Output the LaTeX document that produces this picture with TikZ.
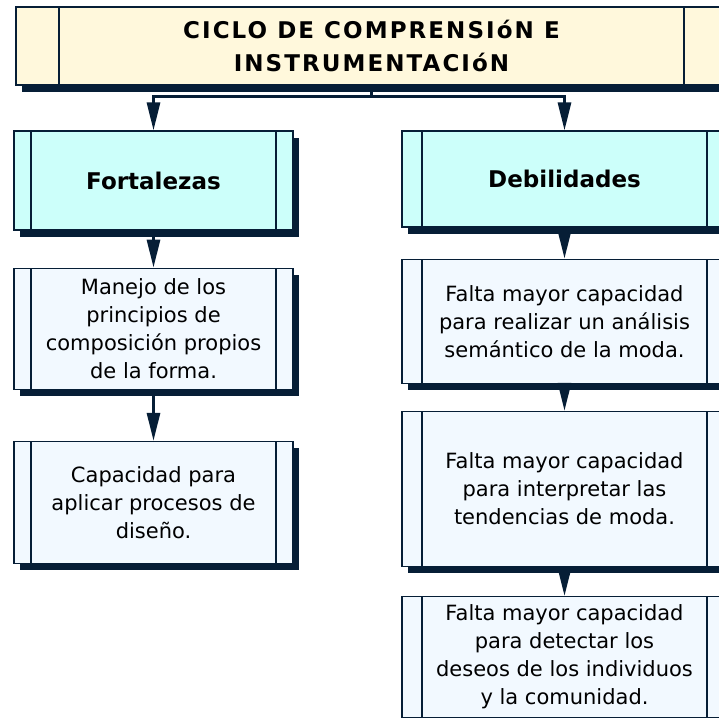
\documentclass[tikz,border=0pt]{standalone}
\usepackage{fontspec}
\setmainfont{DejaVu Sans}
\usepackage{xcolor}
\usetikzlibrary{arrows.meta, positioning, shadows}

\definecolor{oscuro}{HTML}{061E36}
\definecolor{crema}{HTML}{FFF8DC}
\definecolor{cian}{HTML}{CCFFFA}
\definecolor{celeste}{HTML}{F2F9FF}

\begin{document}
\begin{tikzpicture}[
  x=1pt, y=-1pt,
  node distance=30pt,
  barras/.style={path picture={
    \draw[oscuro, line width=1.2pt]
      ([xshift=#1]path picture bounding box.north west) -- ([xshift=#1]path picture bounding box.south west)
      ([xshift=-#1]path picture bounding box.north east) -- ([xshift=-#1]path picture bounding box.south east);}},
  caja/.style={draw=oscuro, line width=1.2pt, fill=celeste, align=center, inner sep=0pt,
               font=\fontsize{21}{28}\selectfont,
               drop shadow={shadow xshift=6pt, shadow yshift=-7pt, fill=oscuro, opacity=1}},
  izq/.style={caja, barras=17pt, minimum width=279pt},
  der/.style={caja, barras=20pt, minimum width=325pt},
  cabeza/.style={fill=cian, font=\fontsize{23}{28}\selectfont\bfseries},
  flecha/.style={draw=oscuro, line width=3pt, -{Triangle[length=28pt, width=13pt]}}
]
  \clip (0,0) rectangle (719,717);

  % titulo
  \node[caja, barras=43pt, fill=crema, minimum width=711pt, minimum height=78pt,
        font=\fontsize{23}{33}\selectfont\bfseries\addfontfeature{LetterSpace=9}]
        (titulo) at (371.5,46) {CICLO DE COMPRENSIóN E\\INSTRUMENTACIóN};

  % columna izquierda
  \node[izq, cabeza, minimum height=99pt] (fort) at (153.5,180.5) {Fortalezas};
  \node[izq, minimum height=121pt, below=37pt of fort] (manejo)
        {Manejo de los\\principios de\\composición propios\\de la forma.};
  \node[izq, minimum height=122pt, below=51pt of manejo] (capac)
        {Capacidad para\\aplicar procesos de\\diseño.};

  % columna derecha
  \node[der, cabeza, minimum height=96pt] (debil) at (564.5,179) {Debilidades};
  \node[der, minimum height=124pt, below=31pt of debil] (falta1)
        {Falta mayor capacidad\\para realizar un análisis\\semántico de la moda.};
  \node[der, minimum height=155pt, below=27pt of falta1] (falta2)
        {Falta mayor capacidad\\para interpretar las\\tendencias de moda.};
  \node[der, minimum height=121pt, below=29pt of falta2] (falta3)
        {Falta mayor capacidad\\para detectar los\\deseos de los individuos\\y la comunidad.};

  % conectores
  \draw[flecha] (titulo.south) -- ++(0,11) -| (fort.north);
  \draw[flecha] (titulo.south) -- ++(0,11) -| (debil.north);
  \draw[flecha] (fort) -- (manejo);
  \draw[flecha] (manejo) -- (capac);
  \draw[flecha] (debil) -- (falta1);
  \draw[flecha] (falta1) -- (falta2);
  \draw[flecha] (falta2) -- (falta3);
\end{tikzpicture}
\end{document}
